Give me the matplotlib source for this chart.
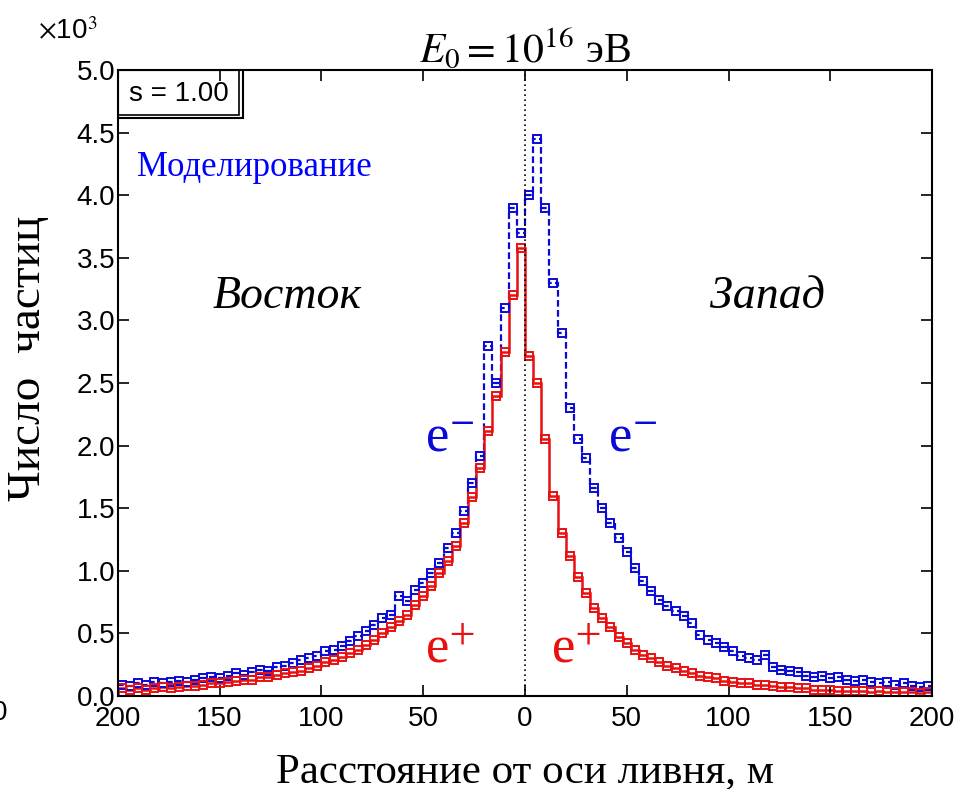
import numpy as np
import matplotlib.pyplot as plt
from matplotlib.patches import Rectangle

# bin edges, m (4 m bins from -200 to 200)
bin_width = 4
edges = np.arange(-200, 200 + bin_width, bin_width)
centers = edges[:-1] + bin_width / 2

# number of particles, x10^3 (east = negative, west = positive)
electrons_east = [0.09, 0.08, 0.10, 0.09, 0.11, 0.10, 0.11, 0.12, 0.11, 0.13,
                  0.14, 0.15, 0.14, 0.16, 0.18, 0.17, 0.19, 0.21, 0.20, 0.23,
                  0.24, 0.26, 0.29, 0.30, 0.32, 0.36, 0.37, 0.40, 0.44, 0.48,
                  0.52, 0.57, 0.62, 0.65, 0.80, 0.76, 0.85, 0.90, 0.98, 1.06,
                  1.18, 1.30, 1.48, 1.70, 1.92, 2.80, 2.50, 3.10, 3.90, 3.70]
electrons_west = [4.00, 4.45, 3.90, 3.30, 2.90, 2.30, 2.05, 1.90, 1.66, 1.50,
                  1.38, 1.26, 1.15, 1.02, 0.92, 0.84, 0.77, 0.72, 0.68, 0.64,
                  0.58, 0.49, 0.45, 0.42, 0.39, 0.36, 0.32, 0.30, 0.29, 0.33,
                  0.23, 0.21, 0.20, 0.19, 0.16, 0.15, 0.16, 0.14, 0.15, 0.13,
                  0.12, 0.13, 0.11, 0.10, 0.11, 0.09, 0.10, 0.08, 0.07, 0.08]
positrons_east = [0.06, 0.05, 0.06, 0.05, 0.06, 0.07, 0.06, 0.07, 0.08, 0.08,
                  0.09, 0.10, 0.10, 0.11, 0.12, 0.13, 0.13, 0.15, 0.15, 0.17,
                  0.18, 0.19, 0.20, 0.22, 0.24, 0.27, 0.29, 0.31, 0.34, 0.37,
                  0.41, 0.45, 0.50, 0.55, 0.60, 0.65, 0.73, 0.80, 0.88, 0.98,
                  1.08, 1.20, 1.38, 1.59, 1.82, 2.12, 2.40, 2.75, 3.20, 3.58]
positrons_west = [2.72, 2.50, 2.05, 1.60, 1.30, 1.12, 0.95, 0.82, 0.70, 0.62,
                  0.55, 0.47, 0.42, 0.37, 0.33, 0.30, 0.27, 0.24, 0.22, 0.20,
                  0.18, 0.16, 0.15, 0.14, 0.12, 0.11, 0.10, 0.10, 0.09, 0.09,
                  0.08, 0.07, 0.07, 0.06, 0.06, 0.05, 0.05, 0.05, 0.04, 0.04,
                  0.04, 0.04, 0.03, 0.04, 0.03, 0.03, 0.03, 0.03, 0.02, 0.03]

electrons = np.array(electrons_east + electrons_west)
positrons = np.array(positrons_east + positrons_west)

xticks = [-200, -150, -100, -50, 0, 50, 100, 150, 200]
xtick_labels = ["200", "150", "100", "50", "0", "50", "100", "150", "200"]
yticks = np.arange(0, 5.01, 0.5)

blue = "#0a0ad8"
red = "#e81010"
serif = "Liberation Serif"
sans = "Liberation Sans"
plt.rcParams['mathtext.fontset'] = 'stix'

fig = plt.figure(figsize=(9.58, 7.89), dpi=100)
ax = fig.add_axes([0.123, 0.118, 0.850, 0.793])

ax.stairs(electrons, edges, color=blue, lw=1.6, ls=(0, (3, 1.5)))
ax.plot(centers, electrons, ls="none", marker="s", ms=6, mfc="none", mec=blue, mew=1.4)
ax.stairs(positrons, edges, color=red, lw=1.8)
ax.plot(centers, positrons, ls="none", marker="s", ms=6, mfc="none", mec=red, mew=1.4)

ax.axvline(0, color="black", ls=(0, (1, 2)), lw=1.2)

ax.set_xlim(-200, 200)
ax.set_ylim(0, 5.0)
ax.set_xticks(xticks)
ax.set_xticklabels(xtick_labels)
ax.set_yticks(yticks)
ax.set_yticklabels([f"{v:.1f}" for v in yticks])
ax.tick_params(direction="in", length=8, width=1.2, top=True, right=True,
               labelsize=20)
ax.tick_params(axis="x", pad=7)
ax.tick_params(axis="y", pad=2)
for lab in ax.get_xticklabels() + ax.get_yticklabels():
    lab.set_family(sans)
for sp in ax.spines.values():
    sp.set_linewidth(1.5)

ax.set_xlabel("Расстояние от оси ливня, м", family=serif, fontsize=31)
ax.xaxis.set_label_coords(0.5, -0.09)
ax.set_ylabel("Число  частиц", family=serif, fontsize=34)
ax.yaxis.set_label_coords(-0.083, 0.54)
ax.set_title(r"$E_0 = 10^{16}$ эВ", family=serif, fontsize=30, pad=6)
fig.text(0.040, 0.943, r"$\times$10$^3$", family=sans, fontsize=20, va="bottom")
fig.text(-0.008, 0.088, "0", family=sans, fontsize=20)

# parameter box with double frame
ax.add_patch(Rectangle((0, 0.923), 0.154, 0.077, transform=ax.transAxes,
                       fill=False, lw=1.5, ec="black", zorder=5))
ax.add_patch(Rectangle((0, 0.929), 0.149, 0.071, transform=ax.transAxes,
                       fill=False, lw=1.2, ec="black", zorder=5))
ax.text(0.075, 0.962, "s = 1.00", transform=ax.transAxes, family=sans,
        fontsize=20, ha="center", va="center")

ax.text(0.024, 0.845, "Моделирование", transform=ax.transAxes, family=serif,
        fontsize=25, color="blue", va="center")
ax.text(-117, 3.10, "Восток", family=serif, style="italic", fontsize=33, ha="center")
ax.text(119, 3.10, "Запад", family=serif, style="italic", fontsize=33, ha="center")
ax.text(-37, 1.95, r"e$^{-}$", family=serif, fontsize=38, color=blue, ha="center")
ax.text(53, 1.95, r"e$^{-}$", family=serif, fontsize=38, color=blue, ha="center")
ax.text(-37, 0.27, r"e$^{+}$", family=serif, fontsize=38, color=red, ha="center")
ax.text(25, 0.27, r"e$^{+}$", family=serif, fontsize=38, color=red, ha="center")

fig.savefig("out.png", dpi=100)
